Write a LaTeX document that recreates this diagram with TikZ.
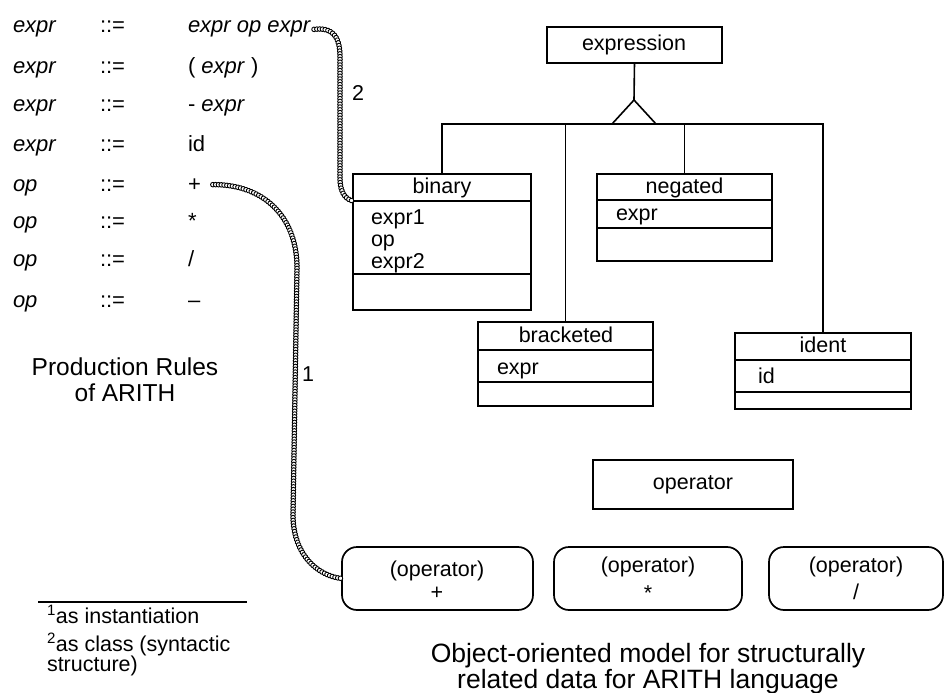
\documentclass[tikz,border=0pt]{standalone}
\usepackage{fontspec}
\setmainfont{Liberation Sans}
\usetikzlibrary{decorations.markings}

\begin{document}
\begin{tikzpicture}[x=1pt,y=-1pt,
  every node/.style={inner sep=0pt, outer sep=0pt},
  txt/.style={font=\fontsize{21.5}{24}\selectfont, anchor=base},
  ltxt/.style={txt, anchor=base west},
  rule/.style={font=\fontsize{22}{24}\selectfont, anchor=base west},
  frame/.style={draw, line width=1.7pt},
  wire/.style={line width=1.6pt},
  inst/.style={draw, line width=1.7pt, rounded corners=15pt},
  beads/.style={decoration={markings,
      mark=between positions 0 and 1 step 2.8pt with
      {\draw[line width=0.9pt, fill=white] (0,0) circle (2.3pt);}},
      decorate}
]
\useasboundingbox (0,0) rectangle (946,693);

% ---- production rules ----
\foreach \y/\lhs/\rhs [count=\i] in {
   33/expr/{\textit{expr op expr}},
   74/expr/{( \textit{expr} )},
  112/expr/{- \textit{expr}},
  151/expr/{id},
  191/op/{+},
  228/op/{*},
  266/op/{/},
  307/op/{--}} {
  \node[rule] (lhs\i) at (13,\y) {\textit{\lhs}};
  \node[rule] (def\i) at (100,\y) {::=};
  \node[rule] (rhs\i) at (188,\y) {\rhs};
}
\node[font=\fontsize{24.5}{26}\selectfont, align=center] (rulestitle)
  at (125,380) {Production Rules\\of ARITH};

% ---- footnotes ----
\draw[line width=1.7pt] (38,602) coordinate (fnl) -- (247,602) coordinate (fnr);
\node[ltxt] (fn1) at (47,623) {\textsuperscript{1}as instantiation};
\node[ltxt] (fn2) at (47,651) {\textsuperscript{2}as class (syntactic};
\node[ltxt] (fn2b) at (47,671) {structure)};

% ---- class hierarchy ----
\node[frame, minimum width=175pt, minimum height=36pt, anchor=north west]
  (expression) at (547,27) {};
\node[txt] (expressionlbl) at (634,51) {expression};

% binary
\node[frame, minimum width=178pt, minimum height=136pt, anchor=north west]
  (binary) at (353,174) {};
\draw[wire] (353,201) -- (531,201);
\draw[wire] (353,274) -- (531,274);
\node[txt] (binarylbl) at (442,193) {binary};
\node[ltxt] (battr1) at (371,224) {expr1};
\node[ltxt] (battr2) at (371,246) {op};
\node[ltxt] (battr3) at (371,268) {expr2};

% negated
\node[frame, minimum width=175pt, minimum height=87pt, anchor=north west]
  (negated) at (597,174) {};
\draw[wire] (597,200) -- (772,200);
\draw[wire] (597,228) -- (772,228);
\node[txt] (negatedlbl) at (684.5,193) {negated};
\node[ltxt] (nattr) at (616,220) {expr};

% bracketed
\node[frame, minimum width=175pt, minimum height=84pt, anchor=north west]
  (bracketed) at (478,322) {};
\draw[wire] (478,350) -- (653,350);
\draw[wire] (478,382) -- (653,382);
\node[txt] (bracketedlbl) at (566,342) {bracketed};
\node[ltxt] (brattr) at (497,374) {expr};

% ident
\node[frame, minimum width=176pt, minimum height=76pt, anchor=north west]
  (ident) at (735,333) {};
\draw[wire] (735,360) -- (911,360);
\draw[wire] (735,392) -- (911,392);
\node[txt] (identlbl) at (823,352) {ident};
\node[ltxt] (iattr) at (758,383) {id};

% generalisation
\coordinate (apex) at (634,100);
\coordinate (bus) at (634,124);
\draw[wire] (expression.south) -- (apex);
\draw[wire, line join=miter] (612,124) -- (apex) -- (656,124);
\draw[wire] (binary.north) -- (binary.north |- bus) -- (ident.north |- bus) -- (ident.north);
\draw[wire] (bracketed.north) -- (bracketed.north |- bus);
\draw[wire] (negated.north) -- (negated.north |- bus);

% ---- operator objects ----
\node[frame, minimum width=200pt, minimum height=49pt, anchor=north west]
  (operator) at (593,460) {};
\node[txt] (operatorlbl) at (693,489) {operator};

\node[inst, minimum width=191pt, minimum height=63pt, anchor=north west]
  (opplus) at (342,547) {};
\node[inst, minimum width=188pt, minimum height=63pt, anchor=north west]
  (optimes) at (554,547) {};
\node[inst, minimum width=174pt, minimum height=63pt, anchor=north west]
  (opdiv) at (769,547) {};
\node[txt] at (437,576) (opplusa) {(operator)};
\node[txt] at (437,599) (opplusb) {+};
\node[txt] at (648,572) (optimesa) {(operator)};
\node[txt] at (648,600) (optimesb) {*};
\node[txt] at (856,572) (opdiva) {(operator)};
\node[txt] at (856,599) (opdivb) {/};

% ---- caption ----
\node[font=\fontsize{26.5}{30}\selectfont, anchor=base] (cap1) at (648,662)
  {Object-oriented model for structurally};
\node[font=\fontsize{26.5}{30}\selectfont, anchor=base] (cap2) at (648,688)
  {related data for ARITH language};

% ---- beaded links ----
\coordinate (src2) at ([xshift=3pt]rhs1.east);
\coordinate (src1) at ([xshift=12pt]rhs5.east);
\draw[beads] (src2) .. controls (333,27) and (340,37) .. (340,57)
  -- (340,178) .. controls (340,192) and (345,199) .. (binary.west |- 0,201);
\draw[beads] (src1) .. controls (262,184) and (297,215) .. (297,268)
  -- (293,515) .. controls (293,555) and (318,576) .. (opplus.west);
\node[txt] (lbl2) at (358,100) {2};
\node[txt] (lbl1) at (308,381) {1};
\end{tikzpicture}
\end{document}
